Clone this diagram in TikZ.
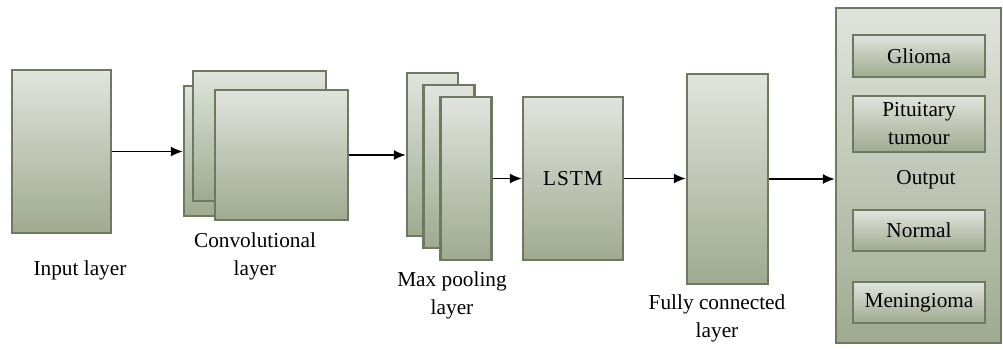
\documentclass[tikz,border=0pt]{standalone}
\usepackage{fontspec}
\setmainfont{Liberation Serif}
\usepackage{tikz}
\usetikzlibrary{positioning, arrows, arrows.meta}

\definecolor{boxedge}{HTML}{6E7961}
\definecolor{boxtop}{HTML}{E1E4DD}
\definecolor{boxbot}{HTML}{A0AA90}

\begin{document}
\begin{tikzpicture}[x=1pt,y=-1pt,
  layer/.style={draw=boxedge,line width=2.4pt,top color=boxtop,bottom color=boxbot,
    inner sep=0pt,font=\fontsize{21.3}{28}\selectfont},
  label/.style={align=center,inner sep=0pt,font=\fontsize{21.3}{28}\selectfont},
  flow/.style={line width=1.4pt,-{Latex[length=12pt,width=10pt]}}]
\useasboundingbox (0,0) rectangle (1003,350);

% input layer
\node[layer,minimum width=99,minimum height=163] (in) at (61.5,151.5) {};
\node[label] (inlab) at (80,270) {Input layer};

% convolutional layer (three stacked maps)
\node[layer,minimum width=133,minimum height=130] (conv1) at (250.5,151) {};
\node[layer,minimum width=133,minimum height=130] (conv2) at (259.5,136) {};
\node[layer,minimum width=133,minimum height=130] (conv3) at (281.5,155) {};
\node[label] (convlab) at (255,256) {Convolutional\\layer};

% max pooling
\node[layer,minimum width=51,minimum height=163] (pool1) at (432.5,154.5) {};
\node[layer,minimum width=51,minimum height=163] (pool2) at (449,166.5) {};
\node[layer,minimum width=51,minimum height=163] (pool3) at (466,178.5) {};
\node[label] (poollab) at (452,295) {Max pooling\\layer};

% lstm
\node[layer,minimum width=100,minimum height=163] (lstm) at (573,178.5) {L\kern1pt S\kern1pt T\kern1pt M};

% fully connected
\node[layer,minimum width=81,minimum height=210] (fc) at (727.5,179) {};
\node[label] (fclab) at (717,318) {Fully connected\\layer};

% output block with the four classes
\node[layer,minimum width=165,minimum height=335] (out) at (918.5,175.5) {};
\node[layer,minimum width=132,minimum height=42] (glioma) at (919,56) {Glioma};
\node[layer,minimum width=132,minimum height=56,align=center] (pit) at (919,124) {Pituitary\\tumour};
\node[label] (outlab) at (926,180) {Output};
\node[layer,minimum width=132,minimum height=41] (normal) at (919,230.5) {Normal};
\node[layer,minimum width=132,minimum height=41] (menin) at (919,302.5) {Meningioma};

% connections
\draw[flow] (in.east) -- (in.east -| conv1.west);
\draw[flow] (conv3.east) -- (conv3.east -| pool1.west);
\draw[flow] (pool3.east) -- (lstm.west);
\draw[flow] (lstm.east) -- (lstm.east -| fc.west);
\draw[flow] (fc.east) -- (fc.east -| out.west);

\end{tikzpicture}
\end{document}
